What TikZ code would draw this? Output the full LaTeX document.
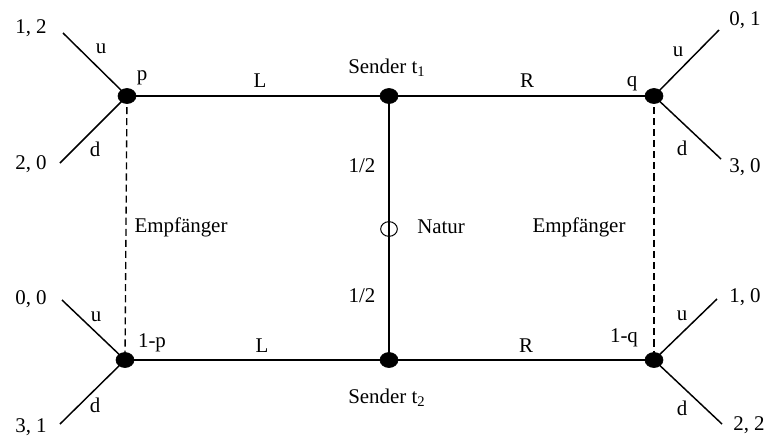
\documentclass[tikz,border=0pt]{standalone}
\usepackage{fontspec}
\setmainfont{Liberation Serif}
\usetikzlibrary{shapes.geometric}
\begin{document}
\begin{tikzpicture}[x=0.75pt,y=-0.75pt,
  dot/.style={ellipse,fill=black,draw=black,line width=0.5pt,minimum width=13.5pt,minimum height=11.25pt,inner sep=0pt},
  chance/.style={ellipse,draw=black,fill=none,line width=0.75pt,minimum width=12.5pt,minimum height=11pt,inner sep=0pt},
  lbl/.style={anchor=base,inner sep=0pt,font=\fontsize{15.7}{18}\selectfont},
  mainline/.style={line width=1.5pt},
  leafline/.style={line width=1.1pt},
  infoset/.style={line width=1pt,dash pattern=on 5.3pt off 3pt}]
\useasboundingbox (0,0) rectangle (769,436);
% coordinates of decision nodes
\coordinate (cp) at (127,96);
\coordinate (ct1) at (389,96);
\coordinate (cq) at (654,96);
\coordinate (cn) at (389,229);
\coordinate (ct2) at (389,360);
\coordinate (cbl) at (125,360);
\coordinate (cbr) at (654,360);
% leaves
\coordinate (l1) at (63,33);
\coordinate (l2) at (60,163);
\coordinate (l3) at (719,30);
\coordinate (l4) at (721,159);
\coordinate (l5) at (62,300);
\coordinate (l6) at (60,424);
\coordinate (l7) at (717,299);
\coordinate (l8) at (722,424);
% connectors
\draw[mainline] (cp) -- (ct1) -- (cq);
\draw[mainline] (cbl) -- (ct2) -- (cbr);
\draw[mainline] (ct1) -- (ct2);
\draw[infoset] (cp) -- (cbl);
\draw[infoset] (cq) -- (cbr);
\draw[leafline] (l1) -- (cp) -- (l2);
\draw[leafline] (l3) -- (cq) -- (l4);
\draw[leafline] (l5) -- (cbl) -- (l6);
\draw[leafline] (l7) -- (cbr) -- (l8);
% nodes
\node[dot] (p) at (cp) {};
\node[dot] (t1) at (ct1) {};
\node[dot] (q) at (cq) {};
\node[dot] (t2) at (ct2) {};
\node[dot] (bl) at (cbl) {};
\node[dot] (br) at (cbr) {};
\node[chance] (n) at (cn) {};
% labels
\node[lbl] (pay1) at (31,33) {1, 2};
\node[lbl] (pay2) at (31,169) {2, 0};
\node[lbl] (pay3) at (745,25) {0, 1};
\node[lbl] (pay4) at (745,172) {3, 0};
\node[lbl] (pay5) at (31,304) {0, 0};
\node[lbl] (pay6) at (31,432) {3, 1};
\node[lbl] (pay7) at (745,302) {1, 0};
\node[lbl] (pay8) at (749,430) {2, 2};
\node[lbl] (u1) at (101,53) {u};
\node[lbl] (d1) at (95,156) {d};
\node[lbl] (u2) at (678,56) {u};
\node[lbl] (d2) at (682,155) {d};
\node[lbl] (u3) at (96,321) {u};
\node[lbl] (d3) at (95,412) {d};
\node[lbl] (u4) at (682,320) {u};
\node[lbl] (d4) at (682,415) {d};
\node[lbl] (lp) at (142,80) {p};
\node[lbl] (lq) at (632,86) {q};
\node[lbl] (l1p) at (152,347) {1-p};
\node[lbl] (l1q) at (624,342) {1-q};
\node[lbl] (L1) at (260,87) {L};
\node[lbl] (R1) at (527,87) {R};
\node[lbl] (L2) at (262,352) {L};
\node[lbl] (R2) at (526,352) {R};
\node[lbl,anchor=base west] (s1) at (348,73) {Sender t\textsubscript{1}};
\node[lbl,anchor=base west] (s2) at (348,403) {Sender t\textsubscript{2}};
\node[lbl] (h1) at (362,172) {1/2};
\node[lbl] (h2) at (362,302) {1/2};
\node[lbl,anchor=base west] (nat) at (417,233) {Natur};
\node[lbl] (e1) at (181,232) {Empfänger};
\node[lbl] (e2) at (579,232) {Empfänger};
\end{tikzpicture}
\end{document}
